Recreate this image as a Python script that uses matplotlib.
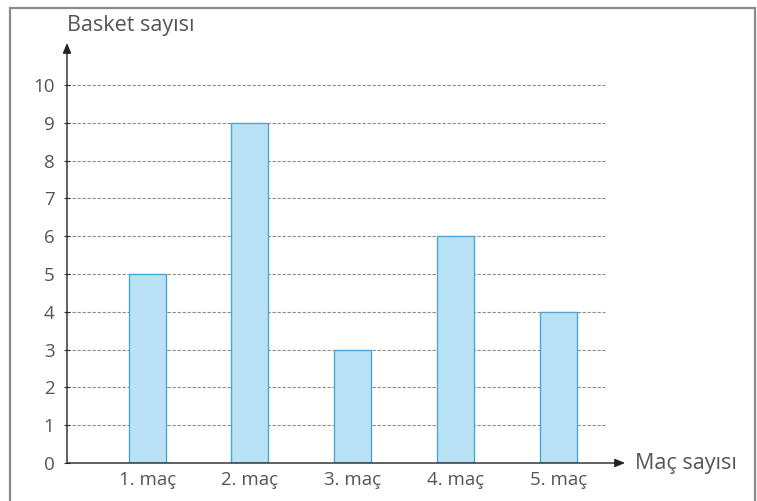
import matplotlib
matplotlib.use("Agg")
import matplotlib.pyplot as plt
from matplotlib.patches import Rectangle

categories = ["1. maç", "2. maç", "3. maç", "4. maç", "5. maç"]
values = [5, 9, 3, 6, 4]
yticks = list(range(0, 11))
ylabel = "Basket sayısı"
xlabel = "Maç sayısı"

W, H = 757, 501
fig = plt.figure(figsize=(W / 100, H / 100), dpi=100)
plt.rcParams['font.family'] = ['Open Sans', 'DejaVu Sans']

def fx(px):
    return px / W

def fy(py):
    return 1 - py / H

# outer frame
fig.add_artist(Rectangle((fx(10), fy(520)), fx(745), fy(8) - fy(520), transform=fig.transFigure,
                         fill=False, edgecolor="#8a8a8a", lw=1.6))

ax_left, ax_right, ax_top, ax_bottom = 67, 625, 43, 463
ax = fig.add_axes([fx(ax_left), fy(ax_bottom), fx(ax_right - ax_left), fy(ax_top) - fy(ax_bottom)])

x = list(range(len(categories)))
ax.set_xlim(-0.78, 4.65)
ax.set_ylim(0, 11.11)

grid_xmax = (605 - ax_left) / (ax_right - ax_left)
for t in yticks[1:]:
    ax.axhline(t, xmin=0, xmax=grid_xmax, color="#8c8c8c", lw=0.8, ls=(0, (3, 1.5)), zorder=1)

ax.bar(x, values, width=0.36, color="#bae2f7", edgecolor="#4aa6d6", lw=1.0, zorder=2)

for s in ax.spines.values():
    s.set_visible(False)

# axes with arrows
ax.annotate("", xy=(0, 1.0), xytext=(0, 0), xycoords="axes fraction",
            arrowprops=dict(arrowstyle="-|>,head_length=0.6,head_width=0.25", color="#222222", lw=1.0,
                            shrinkA=0, shrinkB=0), zorder=3)
ax.annotate("", xy=(1.0, 0), xytext=(0, 0), xycoords="axes fraction",
            arrowprops=dict(arrowstyle="-|>,head_length=0.6,head_width=0.25", color="#222222", lw=1.0,
                            shrinkA=0, shrinkB=0), zorder=3)

ax.set_yticks(yticks)
ax.set_yticklabels([str(t) for t in yticks], color="#555555", fontsize=13.5)
ax.tick_params(axis="y", length=4, width=0.8, direction="inout", color="#333333", pad=7)
ax.set_xticks(x)
ax.set_xticklabels(categories, color="#555555", fontsize=13.5)
ax.tick_params(axis="x", length=0, pad=6)

fig.text(fx(67), fy(26), ylabel, ha="left", va="center", fontsize=15.5, color="#555555")
fig.text(fx(635), fy(463), xlabel, ha="left", va="center", fontsize=15.5, color="#555555")

fig.savefig("out.png", dpi=100)
